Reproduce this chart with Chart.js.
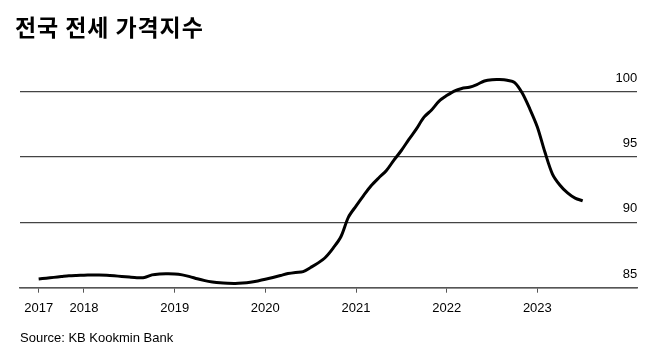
<!DOCTYPE html>
<html><head><meta charset="utf-8">
<script src="https://cdn.jsdelivr.net/npm/chart.js@4"></script>
<style>
html,body{margin:0;padding:0;background:#fff;}
#wrap{position:relative;width:670px;height:356px;overflow:hidden;}
#title{position:absolute;left:15px;top:15px;font:bold 23px/23px "Noto Sans CJK KR";letter-spacing:0.9px;color:#000;white-space:nowrap;}
#source{position:absolute;left:20px;top:331px;font:13px/13px "Liberation Sans";color:#000;white-space:nowrap;}
canvas{position:absolute;left:0;top:0;}
</style></head><body>
<div id="wrap"><canvas id="c" width="670" height="356"></canvas><div id="title">전국 전세 가격지수</div><div id="source">Source: KB Kookmin Bank</div></div>
<script>
// Monthly index, starting July 2017 (month index 0)
const startMonth = '2017-07';
const indexValues = [
  85.66, 85.73, 85.79, 85.85, 85.91, 85.94, 85.96, 85.97, 85.97, 85.95, 85.91, 85.86,
  85.81, 85.77, 85.78, 85.98, 86.05, 86.06, 86.05, 85.98, 85.85, 85.68, 85.54, 85.44,
  85.37, 85.34, 85.33, 85.36, 85.42, 85.52, 85.64, 85.78, 85.93, 86.08, 86.17, 86.23,
  86.55, 86.90, 87.35, 88.05, 88.90, 90.40, 91.25, 92.05, 92.80, 93.40, 93.95, 94.75,
  95.50, 96.35, 97.15, 98.05, 98.60, 99.28, 99.70, 100.05, 100.25, 100.34, 100.55, 100.82,
  100.92, 100.93, 100.88, 100.70, 99.90, 98.69, 97.30, 95.38, 93.70, 92.84, 92.25, 91.85,
  91.65
];
const yearLabels = ['2017', '2018', '2019', '2020', '2021', '2022', '2023'];
const yearTickMonths = [0, 6, 18, 30, 42, 54, 66];
const yTickValues = [85, 90, 95, 100];

const points = indexValues.map((v, i) => ({ x: i, y: v }));

new Chart(document.getElementById('c'), {
  type: 'line',
  data: {
    datasets: [{
      data: points,
      borderColor: '#000',
      borderWidth: 3,
      pointRadius: 0,
      tension: 0.3,
      fill: false,
      borderCapStyle: 'butt'
    }]
  },
  options: {
    responsive: false,
    animation: false,
    devicePixelRatio: 1,
    layout: { padding: { left: 20, right: 32.7, top: 72.1, bottom: 31.7 } },
    plugins: { legend: { display: false }, tooltip: { enabled: false }, title: { display: false } },
    scales: {
      x: {
        type: 'linear',
        min: -2.47,
        max: 79.23,
        afterBuildTicks: (s) => { s.ticks = yearTickMonths.map(v => ({ value: v })); },
        ticks: {
          autoSkip: false,
          maxRotation: 0,
          padding: 8,
          color: '#000',
          font: { family: 'Liberation Sans', size: 13 },
          callback: (v) => { const k = yearTickMonths.indexOf(v); return k >= 0 ? yearLabels[k] : ''; }
        },
        grid: { drawOnChartArea: false, drawTicks: true, tickLength: 5, color: '#555', lineWidth: 1 },
        border: { display: true, color: '#555', width: 1.5 }
      },
      y: {
        position: 'right',
        min: 85,
        max: 101.5,
        afterBuildTicks: (s) => { s.ticks = yTickValues.map(v => ({ value: v })); },
        ticks: {
          mirror: true,
          padding: 0,
          labelOffset: -13.7,
          color: '#000',
          font: { family: 'Liberation Sans', size: 13 }
        },
        grid: { drawTicks: false, color: '#444', lineWidth: 1.2 },
        border: { display: false }
      }
    }
  }
});
</script>
</body></html>
